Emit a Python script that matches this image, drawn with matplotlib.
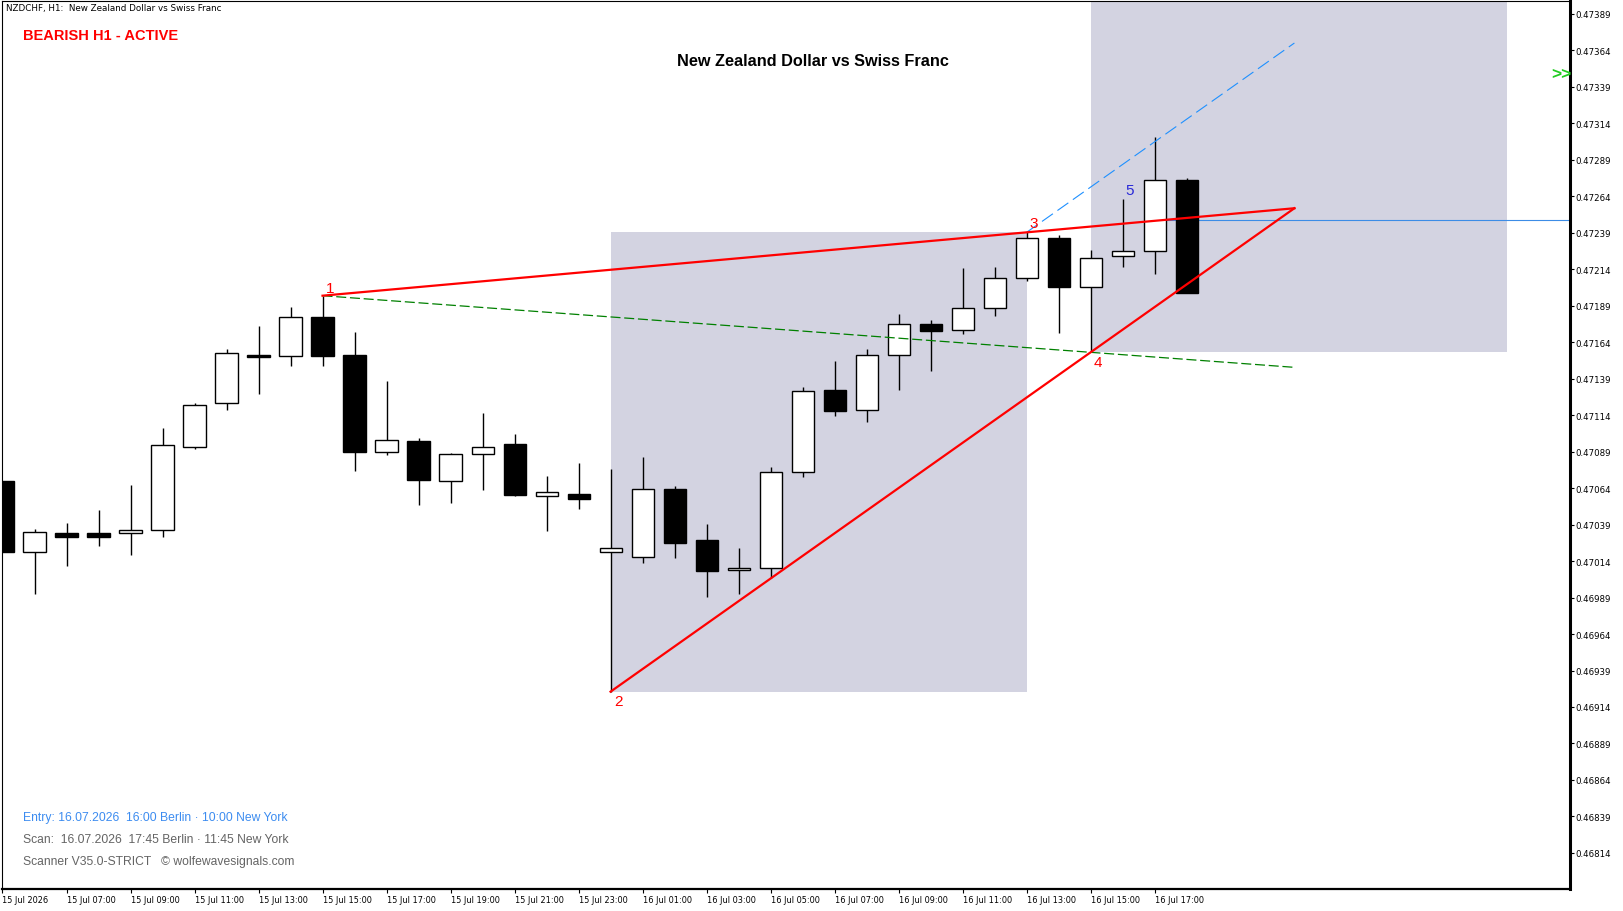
import matplotlib
matplotlib.use('Agg')
import matplotlib.pyplot as plt
from matplotlib.patches import Rectangle

# H1 Kerzen NZDCHF, 15 Jul 05:00 .. 16 Jul 18:00
opens = [0.470688, 0.470204, 0.470332, 0.470332, 0.470330, 0.470351, 0.470919, 0.471221,
         0.471550, 0.471543, 0.471810, 0.471550, 0.470889, 0.470960, 0.470686, 0.470871,
         0.470942, 0.470588, 0.470599, 0.470200, 0.470166, 0.470632, 0.470285, 0.470077,
         0.470090, 0.470748, 0.471312, 0.471173, 0.471550, 0.471762, 0.471721, 0.471877,
         0.472081, 0.472354, 0.472020, 0.472228, 0.472262, 0.472749]
highs = [0.470690, 0.470360, 0.470401, 0.470490, 0.470661, 0.471052, 0.471221, 0.471593,
         0.471750, 0.471881, 0.471958, 0.471709, 0.471374, 0.470983, 0.470878, 0.471154,
         0.471011, 0.470723, 0.470812, 0.470771, 0.470853, 0.470652, 0.470394, 0.470230,
         0.470784, 0.471330, 0.471511, 0.471593, 0.471833, 0.471792, 0.472148, 0.472155,
         0.472392, 0.472372, 0.472271, 0.472621, 0.473045, 0.472764]
lows = [0.470204, 0.469916, 0.470108, 0.470245, 0.470184, 0.470307, 0.470908, 0.471177,
        0.471287, 0.471478, 0.471478, 0.470759, 0.470869, 0.470526, 0.470540, 0.470629,
        0.470588, 0.470348, 0.470499, 0.469245, 0.470129, 0.470163, 0.469896, 0.469916,
        0.470022, 0.470718, 0.471136, 0.471095, 0.471314, 0.471444, 0.471698, 0.471821,
        0.472061, 0.471705, 0.471570, 0.472157, 0.472109, 0.471979]
closes = [0.470204, 0.470337, 0.470307, 0.470307, 0.470351, 0.470933, 0.471207, 0.471563,
          0.471540, 0.471810, 0.471547, 0.470889, 0.470967, 0.470697, 0.470871, 0.470919,
          0.470595, 0.470611, 0.470567, 0.470227, 0.470632, 0.470266, 0.470074, 0.470093,
          0.470748, 0.471303, 0.471170, 0.471550, 0.471762, 0.471718, 0.471872, 0.472076,
          0.472354, 0.472020, 0.472214, 0.472262, 0.472749, 0.471979]

time_ticks = [0, 2, 4, 6, 8, 10, 12, 14, 16, 18, 20, 22, 24, 26, 28, 30, 32, 34, 36]
time_labels = ['15 Jul 2026', '15 Jul 07:00', '15 Jul 09:00', '15 Jul 11:00', '15 Jul 13:00',
               '15 Jul 15:00', '15 Jul 17:00', '15 Jul 19:00', '15 Jul 21:00', '15 Jul 23:00',
               '16 Jul 01:00', '16 Jul 03:00', '16 Jul 05:00', '16 Jul 07:00', '16 Jul 09:00',
               '16 Jul 11:00', '16 Jul 13:00', '16 Jul 15:00', '16 Jul 17:00']
price_ticks = [0.46814, 0.46839, 0.46864, 0.46889, 0.46914, 0.46939, 0.46964, 0.46989,
               0.47014, 0.47039, 0.47064, 0.47089, 0.47114, 0.47139, 0.47164, 0.47189,
               0.47214, 0.47239, 0.47264, 0.47289, 0.47314, 0.47339, 0.47364, 0.47389]

# Wolfe-Punkte 1..4 (Kerzenindex, Preis)
wave_x = [10, 19, 32, 34]
wave_y = [0.471958, 0.469245, 0.472392, 0.471570]
target_level = 0.472477
target_start = 36
label5 = (35.23, 0.472682)

fig = plt.figure(figsize=(16.23, 9.12), dpi=100)
ax = fig.add_axes([2 / 1623, 22 / 912, 1568 / 1623, 888 / 912])
ax.set_xlim(-0.0156, 48.98)
ax.set_ylim(0.467893, 0.473977)

# Apex: Schnittpunkt 1-3 und 2-4
s13 = (wave_y[2] - wave_y[0]) / (wave_x[2] - wave_x[0])
s24 = (wave_y[3] - wave_y[1]) / (wave_x[3] - wave_x[1])
ax_t = (wave_y[1] - wave_y[0] + s13 * wave_x[0] - s24 * wave_x[1]) / (s13 - s24)
ax_p = wave_y[0] + s13 * (ax_t - wave_x[0])

# Zonen
w = wave_x[2] - wave_x[1]
ax.add_patch(Rectangle((wave_x[1], wave_y[1]), w, wave_y[2] - wave_y[1],
                       facecolor='#D3D3E1', edgecolor='none', zorder=0))
ytop = ax.get_ylim()[1]
ax.add_patch(Rectangle((wave_x[3], wave_y[3]), w, ytop - wave_y[3],
                       facecolor='#D3D3E1', edgecolor='none', zorder=0))

# Zielniveau
ax.plot([target_start, 49], [target_level, target_level], color='#3C8CE6', lw=0.8, zorder=1)

# Kerzen
for i in range(len(opens)):
    o, h, l, c = opens[i], highs[i], lows[i], closes[i]
    ax.vlines(i, l, h, color='black', lw=1, zorder=2)
    fill = 'white' if c >= o else 'black'
    ax.bar(i, max(abs(c - o), 0.000004), bottom=min(o, c), width=0.69,
           color=fill, edgecolor='black', linewidth=1, zorder=3)

# Linien
ax.plot([wave_x[0], ax_t], [wave_y[0], ax_p], color='#FF0000', lw=1.6, zorder=5)
ax.plot([wave_x[1], ax_t], [wave_y[1], ax_p], color='#FF0000', lw=1.6, zorder=5)
s14 = (wave_y[3] - wave_y[0]) / (wave_x[3] - wave_x[0])
ax.plot([wave_x[0], ax_t], [wave_y[0], wave_y[0] + s14 * (ax_t - wave_x[0])],
        color='#008000', lw=0.9, dashes=(8, 3), zorder=4)
ax.plot([wave_x[2], ax_t], [wave_y[2], wave_y[2] + s24 * (ax_t - wave_x[2])],
        color='#1E90FF', lw=0.8, dashes=(12, 5), zorder=4)

# Punktnummern
offs = [(7.5, 7.7), (7.5, -9.3), (7.5, 9.3), (7.5, -9.7)]
for k in range(4):
    ax.annotate(str(k + 1), (wave_x[k], wave_y[k]), xytext=offs[k], textcoords='offset pixels',
                ha='center', va='center', color='#FF0000', fontsize=11,
                family='Liberation Sans', zorder=6)
ax.text(label5[0], label5[1], '5', ha='center', va='center', color='#2828D8',
        fontsize=11, family='Liberation Sans', zorder=6)

# Achsen
ax.yaxis.tick_right()
ax.set_yticks(price_ticks)
ax.set_yticklabels(['%.5f' % p for p in price_ticks])
ax.set_xticks(time_ticks)
ax.set_xticklabels(time_labels, ha='left')
ax.tick_params(axis='y', direction='out', length=3, width=0.8, pad=1, labelsize=6.2)
ax.tick_params(axis='x', direction='out', length=3, width=0.8, pad=1.5, labelsize=5.9)
for name, lw in [('left', 0.8), ('top', 0.8), ('right', 2.2), ('bottom', 1.6)]:
    ax.spines[name].set_linewidth(lw)
    ax.spines[name].set_color('black')

# Texte
fig.text(6 / 1623, 1 - 9 / 912, 'NZDCHF, H1:  New Zealand Dollar vs Swiss Franc',
         fontsize=6.3, va='center', ha='left')
fig.text(23 / 1623, 1 - 36.5 / 912, 'BEARISH H1 - ACTIVE', fontsize=10.5, fontweight='bold',
         color='#FF0000', va='center', ha='left', family='Liberation Sans')
fig.text(813 / 1623, 1 - 61.5 / 912, 'New Zealand Dollar vs Swiss Franc', fontsize=11.7,
         fontweight='bold', color='black', va='center', ha='center', family='Liberation Sans')
fig.text(1571 / 1623, 1 - 75 / 912, '>>', fontsize=12.5, fontweight='bold', color='#22CC22',
         va='center', ha='right', family='Liberation Sans')
fig.text(23 / 1623, 1 - 818.5 / 912, 'Entry: 16.07.2026  16:00 Berlin · 10:00 New York',
         fontsize=8.75, color='#3C8CF0', va='center', ha='left', family='Liberation Sans')
fig.text(23 / 1623, 1 - 840.5 / 912, 'Scan:  16.07.2026  17:45 Berlin · 11:45 New York',
         fontsize=8.75, color='#646464', va='center', ha='left', family='Liberation Sans')
fig.text(23 / 1623, 1 - 862.5 / 912, 'Scanner V35.0-STRICT   © wolfewavesignals.com',
         fontsize=8.75, color='#646464', va='center', ha='left', family='Liberation Sans')

fig.savefig('out.png', dpi=100)
